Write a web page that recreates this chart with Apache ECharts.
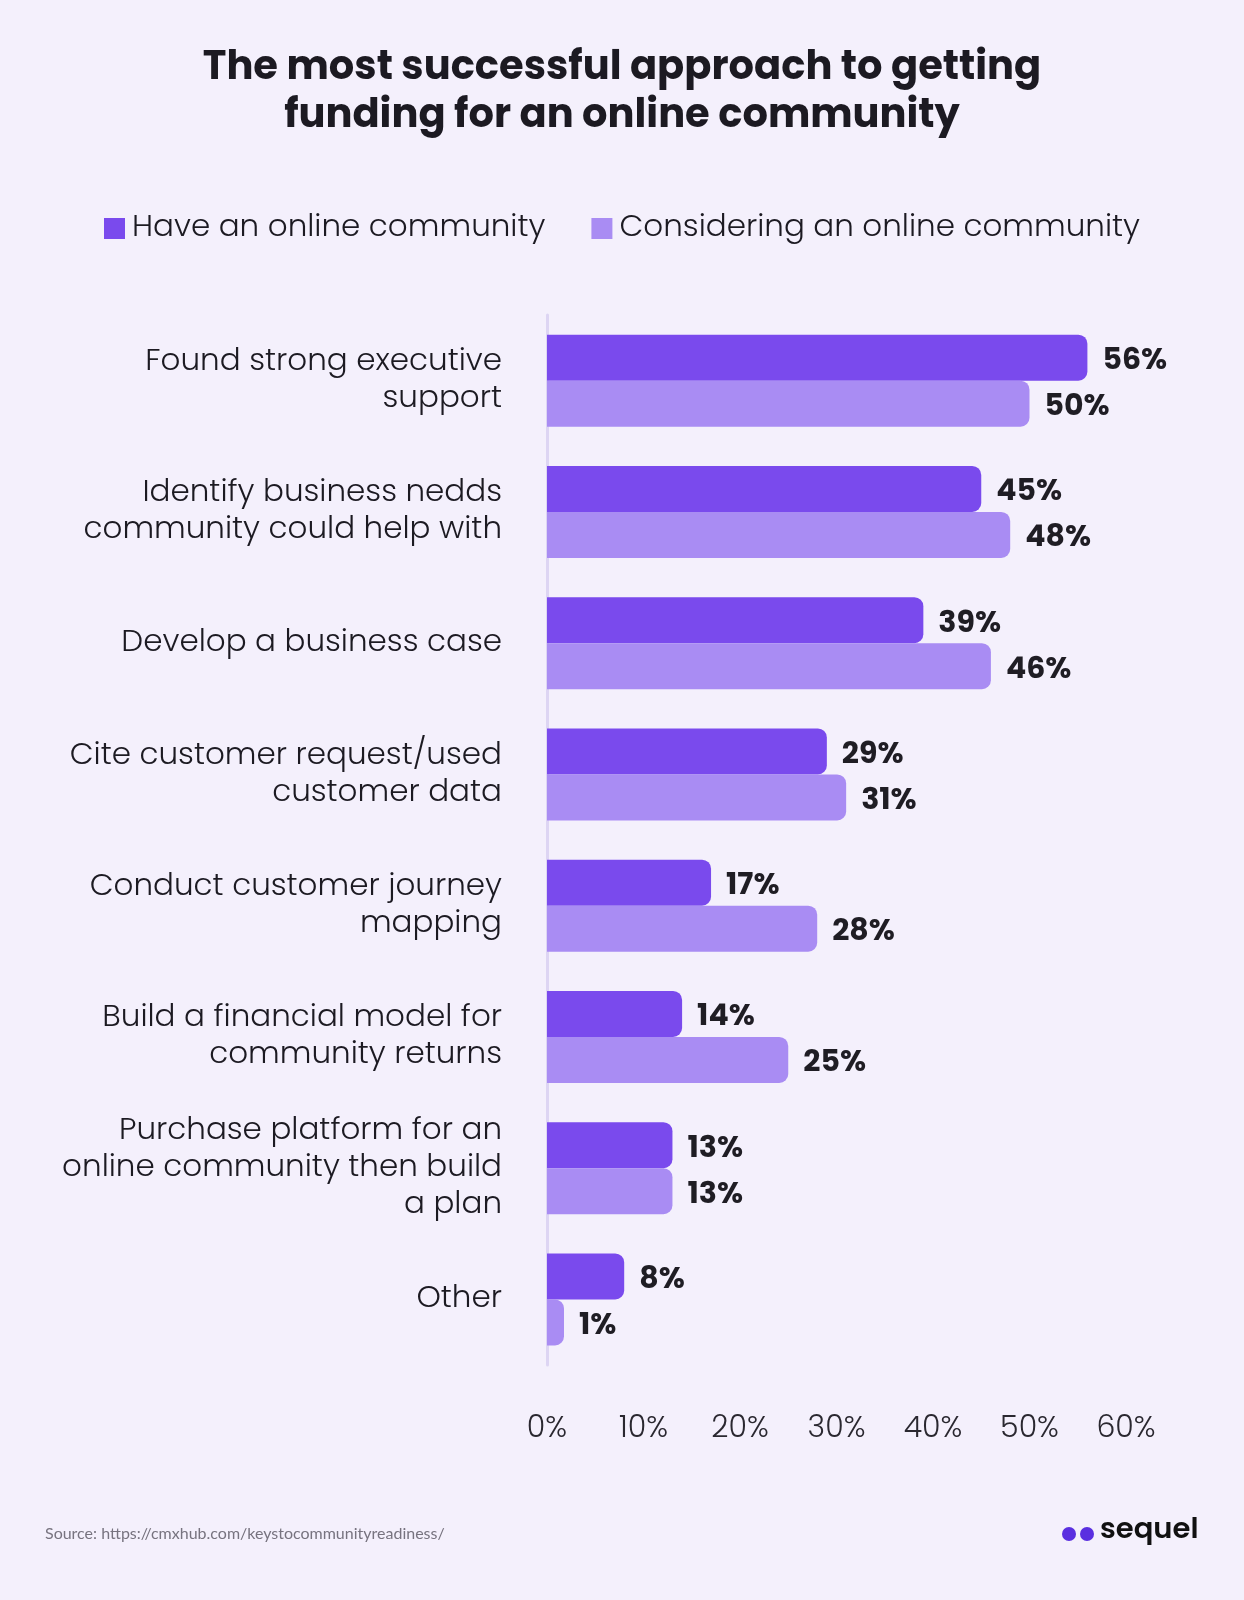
<!DOCTYPE html>
<html>
<head>
<meta charset="utf-8">
<script src="https://cdn.jsdelivr.net/npm/echarts@6/dist/echarts.min.js"></script>
<style>
  html, body { margin: 0; padding: 0; background: #f4f0fc; }
  #main { width: 1244px; height: 1600px; }
</style>
</head>
<body>
<div id="main"></div>
<script>
// categories top to bottom
var categories = [
  'Found strong executive\nsupport',
  'Identify business nedds\ncommunity could help with',
  'Develop a business case',
  'Cite customer request/used\ncustomer data',
  'Conduct customer journey\nmapping',
  'Build a financial model for\ncommunity returns',
  'Purchase platform for an\nonline community then build\na plan',
  'Other'
];
var haveCommunity = [56, 45, 39, 29, 17, 14, 13, 8];
var consideringCommunity = [50, 48, 46, 31, 28, 25, 13, 1];
var seriesNames = ['Have an online community', 'Considering an online community'];
var xTicks = [0, 10, 20, 30, 40, 50, 60];

var darkPurple = '#7a4aed';
var lightPurple = '#a98cf3';
var textFont = 'Poppins, "Noto Sans", Lato, sans-serif';

var chart = echarts.init(document.getElementById('main'));

var valueLabel = {
  show: true,
  position: 'right',
  distance: 15,
  offset: [0, 4],
  formatter: '{c}%',
  fontSize: 30,
  fontWeight: 'bold',
  fontFamily: textFont,
  color: '#1f1d24'
};

var option = {
  backgroundColor: '#f4f0fc',
  title: {
    text: 'The most successful approach to getting\nfunding for an online community',
    left: 'center',
    top: 40,
    textStyle: {
      fontSize: 40,
      fontWeight: 'bold',
      fontFamily: textFont,
      color: '#1c1a22',
      lineHeight: 48
    }
  },
  legend: {
    data: seriesNames,
    top: 208,
    left: 'center',
    itemWidth: 21,
    itemHeight: 21,
    itemGap: 46,
    icon: 'rect',
    textStyle: {
      fontSize: 31,
      fontWeight: 300,
      fontFamily: textFont,
      color: '#1c1a22',
      padding: [0, 0, 0, 2]
    }
  },
  grid: {
    left: 547,
    right: 118,
    top: 315,
    bottom: 235,
    containLabel: false
  },
  xAxis: {
    type: 'value',
    min: 0,
    max: 60,
    interval: 10,
    splitLine: { show: false },
    axisLine: { show: false },
    axisTick: { show: false },
    axisLabel: {
      margin: 49,
      fontSize: 30,
      fontWeight: 300,
      fontFamily: textFont,
      color: '#2a2830',
      formatter: function (v) { return xTicks.indexOf(v) >= 0 ? v + '%' : ''; }
    }
  },
  yAxis: {
    type: 'category',
    inverse: true,
    data: categories,
    axisLine: { show: true, lineStyle: { color: '#ddd5f3', width: 3 } },
    axisTick: { show: false },
    axisLabel: {
      margin: 45,
      fontSize: 31,
      fontWeight: 300,
      fontFamily: textFont,
      color: '#1c1a22',
      lineHeight: 37,
      padding: [8, 0, 0, 0],
      align: 'right'
    }
  },
  series: [
    {
      name: seriesNames[0],
      type: 'bar',
      data: haveCommunity,
      barWidth: 46,
      barGap: '0%',
      itemStyle: { color: darkPurple, borderRadius: [0, 9, 9, 0] },
      label: valueLabel
    },
    {
      name: seriesNames[1],
      type: 'bar',
      data: consideringCommunity,
      barWidth: 46,
      barGap: '0%',
      barMinHeight: 17,
      itemStyle: { color: lightPurple, borderRadius: [0, 9, 9, 0] },
      label: valueLabel
    }
  ],
  graphic: [
    {
      type: 'text',
      left: 45,
      top: 1526,
      style: {
        text: 'Source: https://cmxhub.com/keystocommunityreadiness/',
        fontSize: 16,
        fontFamily: 'Lato, sans-serif',
        fill: '#77737f'
      }
    },
    {
      type: 'circle',
      shape: { cx: 1069, cy: 1534, r: 7 },
      style: { fill: '#5a2fe0' }
    },
    {
      type: 'circle',
      shape: { cx: 1087, cy: 1534, r: 7 },
      style: { fill: '#5a2fe0' }
    },
    {
      type: 'text',
      left: 1100,
      top: 1516,
      style: {
        text: 'sequel',
        fontSize: 29,
        fontWeight: 600,
        fontFamily: textFont,
        fill: '#111'
      }
    }
  ]
};

chart.setOption(option);
</script>
</body>
</html>
